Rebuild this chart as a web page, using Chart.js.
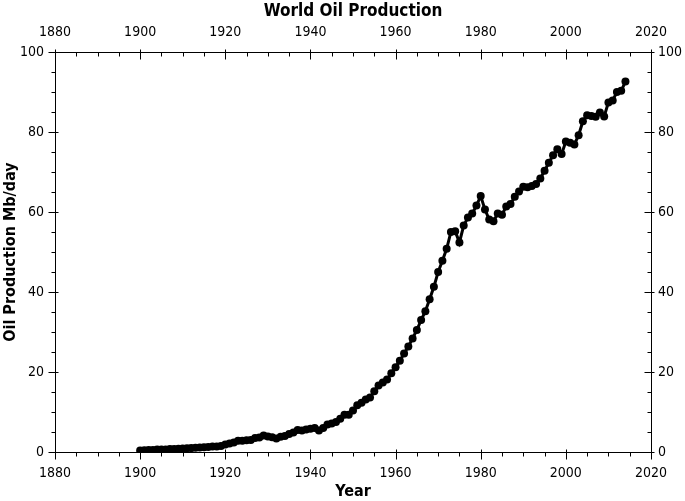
<!DOCTYPE html>
<html>
<head>
<meta charset="utf-8">
<script src="https://cdn.jsdelivr.net/npm/chart.js@4.4.1/dist/chart.umd.min.js"></script>
<style>
  html, body { margin: 0; padding: 0; background: #fff; }
  #wrap { width: 685px; height: 501px; }
</style>
</head>
<body>
<div id="wrap"><canvas id="oilChart" width="685" height="501"></canvas></div>
<script>
// years of the series
const years = [
    1900, 1901, 1902, 1903, 1904, 1905, 1906, 1907, 1908, 1909,
    1910, 1911, 1912, 1913, 1914, 1915, 1916, 1917, 1918, 1919,
    1920, 1921, 1922, 1923, 1924, 1925, 1926, 1927, 1928, 1929,
    1930, 1931, 1932, 1933, 1934, 1935, 1936, 1937, 1938, 1939,
    1940, 1941, 1942, 1943, 1944, 1945, 1946, 1947, 1948, 1949,
    1950, 1951, 1952, 1953, 1954, 1955, 1956, 1957, 1958, 1959,
    1960, 1961, 1962, 1963, 1964, 1965, 1966, 1967, 1968, 1969,
    1970, 1971, 1972, 1973, 1974, 1975, 1976, 1977, 1978, 1979,
    1980, 1981, 1982, 1983, 1984, 1985, 1986, 1987, 1988, 1989,
    1990, 1991, 1992, 1993, 1994, 1995, 1996, 1997, 1998, 1999,
    2000, 2001, 2002, 2003, 2004, 2005, 2006, 2007, 2008, 2009,
    2010, 2011, 2012, 2013, 2014
];

// oil production, Mb/day
const production = [
    0.4, 0.45, 0.5, 0.53, 0.6, 0.6, 0.6, 0.72, 0.78, 0.82,
    0.9, 0.94, 0.97, 1.05, 1.1, 1.18, 1.25, 1.38, 1.4, 1.52,
    1.9, 2.1, 2.4, 2.8, 2.8, 2.95, 3.0, 3.5, 3.6, 4.1,
    3.85, 3.7, 3.4, 3.8, 4.0, 4.5, 4.9, 5.5, 5.4, 5.6,
    5.8, 6.0, 5.4, 6.0, 6.9, 7.1, 7.5, 8.3, 9.3, 9.3,
    10.4, 11.7, 12.3, 13.1, 13.6, 15.2, 16.6, 17.4, 18.1, 19.7,
    21.2, 22.8, 24.6, 26.4, 28.4, 30.5, 33.0, 35.2, 38.2, 41.3,
    45.0, 47.8, 50.8, 55.0, 55.2, 52.4, 56.6, 58.6, 59.6, 61.6,
    64.0, 60.6, 58.1, 57.7, 59.6, 59.3, 61.4, 62.0, 63.8, 65.1,
    66.3, 66.2, 66.5, 67.0, 68.4, 70.3, 72.3, 74.2, 75.7, 74.5,
    77.6, 77.3, 76.9, 79.2, 82.7, 84.2, 84.0, 83.8, 84.9, 83.9,
    87.4, 87.9, 90.0, 90.3, 92.6
];

// axis ranges
const xRange = [1880, 2020];
const yRange = [0, 100];
const majorStep = 20;
const minorStep = 5;

const FONT = '"DejaVu Sans Condensed", "DejaVu Sans", sans-serif';

// tick marks: long ones every 20, short ones every 5
const tickMarks = {
    id: 'tickMarks',
    afterDraw(chart) {
        const ctx = chart.ctx;
        ctx.save();
        ctx.strokeStyle = '#000';
        ctx.lineWidth = 1;
        ['x', 'x2', 'y', 'y2'].forEach(id => {
            const s = chart.scales[id];
            for (let v = s.min; v <= s.max; v += minorStep) {
                const major = v % majorStep === 0;
                const p = Math.round(s.getPixelForValue(v)) + 0.5;
                ctx.beginPath();
                if (s.isHorizontal()) {
                    const y0 = Math.round(id === 'x' ? s.top : s.bottom) + 0.5;
                    ctx.moveTo(p, y0 - (major ? 3 : 0));
                    ctx.lineTo(p, y0 + (major ? 7 : 4));
                } else {
                    const x0 = Math.round(id === 'y' ? s.right : s.left) + 0.5;
                    ctx.moveTo(x0 - (major ? 7 : 4), p);
                    ctx.lineTo(x0 + (major ? 3 : 0), p);
                }
                ctx.stroke();
            }
        });
        ctx.restore();
    }
};

function axis(position, size, pad, title) {
    const horizontal = position === 'top' || position === 'bottom';
    const range = horizontal ? xRange : yRange;
    return {
        type: 'linear',
        position: position,
        min: range[0],
        max: range[1],
        afterFit: s => { if (horizontal) s.height = size; else s.width = size; },
        grid: { display: true, drawOnChartArea: false, drawTicks: false },
        border: { display: true, color: '#000', width: 1 },
        ticks: {
            stepSize: majorStep,
            padding: pad,
            color: '#000',
            font: { family: FONT, size: 14 },
            callback: v => String(v)
        },
        title: title || { display: false }
    };
}

new Chart(document.getElementById('oilChart').getContext('2d'), {
    type: 'line',
    data: {
        datasets: [{
            label: 'World Oil Production',
            data: years.map((yr, i) => ({ x: yr, y: production[i] })),
            borderColor: '#000',
            backgroundColor: '#000',
            borderWidth: 3,
            pointRadius: 4,
            pointBackgroundColor: '#000',
            pointBorderWidth: 0,
            tension: 0,
            xAxisID: 'x',
            yAxisID: 'y'
        }]
    },
    options: {
        responsive: false,
        animation: false,
        layout: { padding: 0 },
        plugins: {
            legend: { display: false },
            tooltip: { enabled: false }
        },
        scales: {
            x: axis('bottom', 49, 13, {
                display: true, text: 'Year', color: '#000',
                font: { family: FONT, size: 16, weight: 'bold' },
                padding: { top: 0, bottom: 0 }
            }),
            x2: axis('top', 52, 11, {
                display: true, text: 'World Oil Production', color: '#000',
                font: { family: FONT, size: 17, weight: 'bold' },
                padding: { top: 1, bottom: 0 }
            }),
            y: axis('left', 55, 11, {
                display: true, text: 'Oil Production Mb/day', color: '#000',
                font: { family: FONT, size: 16, weight: 'bold' },
                padding: { top: 1, bottom: 0 }
            }),
            y2: axis('right', 34, 7)
        }
    },
    plugins: [tickMarks]
});
</script>
</body>
</html>
